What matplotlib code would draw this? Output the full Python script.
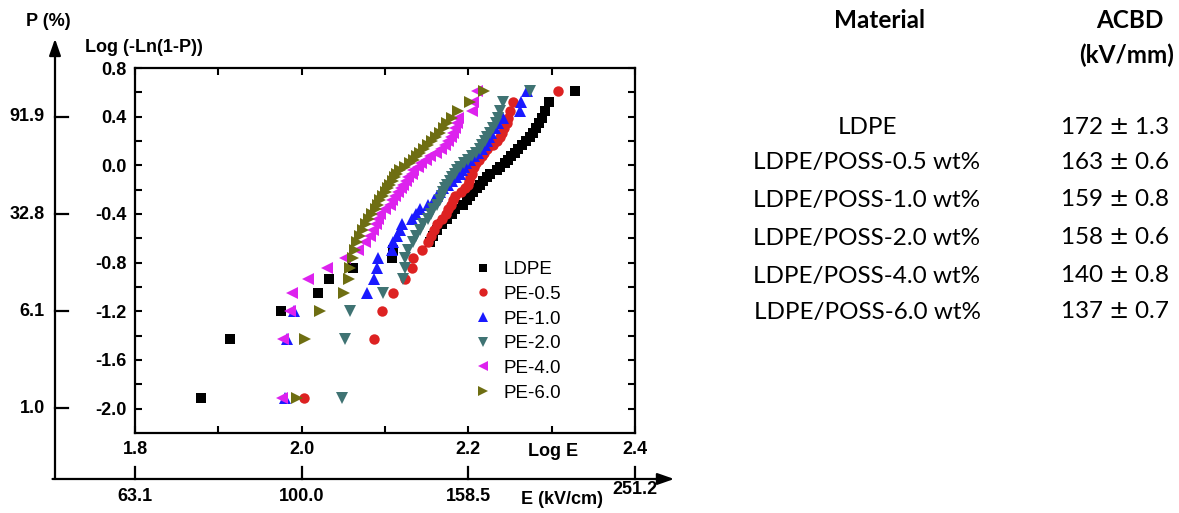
import matplotlib
matplotlib.use("Agg")
import matplotlib.pyplot as plt
import numpy as np

# Weibull plot data: common probability levels, Log(-Ln(1-P))
y_levels = [-1.911, -1.429, -1.201, -1.050, -0.935, -0.842, -0.763, -0.695, -0.634, -0.579,
            -0.529, -0.483, -0.439, -0.399, -0.360, -0.323, -0.288, -0.255, -0.222, -0.190,
            -0.159, -0.129, -0.099, -0.070, -0.041, -0.012, 0.017, 0.046, 0.075, 0.104,
            0.134, 0.165, 0.197, 0.230, 0.265, 0.303, 0.344, 0.391, 0.447, 0.520, 0.61]

# Log E for each sample (sorted)
ldpe = [1.879, 1.914, 1.975, 2.020, 2.033, 2.062, 2.108, 2.110, 2.154, 2.158,
        2.162, 2.168, 2.174, 2.180, 2.184, 2.194, 2.198, 2.202, 2.206, 2.210,
        2.214, 2.218, 2.222, 2.226, 2.234, 2.238, 2.244, 2.248, 2.251, 2.256,
        2.260, 2.264, 2.269, 2.274, 2.278, 2.281, 2.285, 2.288, 2.292, 2.297, 2.328]
pe05 = [2.003, 2.087, 2.096, 2.110, 2.124, 2.132, 2.133, 2.144, 2.152, 2.155,
        2.159, 2.162, 2.168, 2.173, 2.176, 2.179, 2.182, 2.184, 2.191, 2.196,
        2.200, 2.201, 2.202, 2.204, 2.204, 2.207, 2.209, 2.213, 2.216, 2.219,
        2.222, 2.230, 2.234, 2.238, 2.240, 2.243, 2.246, 2.248, 2.250, 2.254, 2.308]
pe10 = [1.980, 1.982, 1.991, 2.078, 2.087, 2.090, 2.092, 2.108, 2.110, 2.114,
        2.118, 2.120, 2.132, 2.137, 2.142, 2.152, 2.159, 2.162, 2.166, 2.170,
        2.176, 2.180, 2.185, 2.190, 2.192, 2.195, 2.197, 2.202, 2.207, 2.212,
        2.216, 2.220, 2.222, 2.225, 2.227, 2.232, 2.235, 2.242, 2.262, 2.263, 2.270]
pe20 = [2.048, 2.052, 2.058, 2.098, 2.122, 2.124, 2.124, 2.128, 2.133, 2.137,
        2.142, 2.146, 2.152, 2.155, 2.158, 2.162, 2.166, 2.168, 2.170, 2.172,
        2.174, 2.178, 2.180, 2.184, 2.186, 2.190, 2.195, 2.200, 2.204, 2.209,
        2.214, 2.216, 2.220, 2.222, 2.226, 2.230, 2.233, 2.236, 2.238, 2.242, 2.274]
pe40 = [1.976, 1.978, 1.986, 1.988, 2.008, 2.030, 2.052, 2.068, 2.076, 2.082,
        2.086, 2.089, 2.092, 2.094, 2.100, 2.106, 2.108, 2.112, 2.116, 2.119,
        2.122, 2.125, 2.128, 2.132, 2.134, 2.139, 2.143, 2.149, 2.154, 2.161,
        2.167, 2.172, 2.176, 2.179, 2.182, 2.184, 2.186, 2.188, 2.204, 2.206, 2.210]
pe60 = [1.994, 2.004, 2.022, 2.051, 2.057, 2.058, 2.061, 2.064, 2.066, 2.070,
        2.074, 2.077, 2.081, 2.084, 2.089, 2.092, 2.094, 2.098, 2.101, 2.104,
        2.106, 2.110, 2.112, 2.114, 2.118, 2.124, 2.130, 2.135, 2.138, 2.142,
        2.147, 2.152, 2.156, 2.161, 2.166, 2.171, 2.174, 2.180, 2.188, 2.202, 2.219]

labels = ["LDPE", "PE-0.5", "PE-1.0", "PE-2.0", "PE-4.0", "PE-6.0"]

# outer axes ticks
p_ticks = [91.9, 32.8, 6.1, 1.0]
e_ticks = [63.1, 100.0, 158.5, 251.2]

# table on the right
materials = ["LDPE", "LDPE/POSS-0.5 wt%", "LDPE/POSS-1.0 wt%", "LDPE/POSS-2.0 wt%",
             "LDPE/POSS-4.0 wt%", "LDPE/POSS-6.0 wt%"]
acbd = [172, 163, 159, 158, 140, 137]
acbd_err = [1.3, 0.6, 0.8, 0.6, 0.8, 0.7]

fig = plt.figure(figsize=(11.79, 5.13), dpi=100)
ax = fig.add_axes([135 / 1179, 80 / 513, 500 / 1179, 365 / 513])

series = [ldpe, pe05, pe10, pe20, pe40, pe60]
markers = ["s", "o", "^", "v", "<", ">"]
colors = ["#000000", "#dd2222", "#1a1aff", "#3f7373", "#dd22ee", "#6e6e12"]
sizes = [7, 7.5, 8.5, 8.5, 8.5, 8.5]
for xs, m, c, s, lab in zip(series, markers, colors, sizes, labels):
    ax.plot(xs, y_levels, linestyle="none", marker=m, color=c, markersize=s,
            markeredgewidth=0, label=lab, clip_on=False)

lf = "Liberation Sans"
fs = 13

ax.set_xlim(1.8, 2.4)
ax.set_ylim(-2.2, 0.8)
ax.set_xticks([1.8, 1.9, 2.0, 2.1, 2.2, 2.3, 2.4])
ax.set_xticklabels(["1.8", "", "2.0", "", "2.2", "", "2.4"])
ax.set_yticks(np.arange(-2.0, 0.81, 0.2))
ax.set_yticklabels(["-2.0", "", "-1.6", "", "-1.2", "", "-0.8", "", "-0.4", "", "0.0", "", "0.4", "", "0.8"])
ax.tick_params(direction="in", length=5, width=1.5, top=True, right=True,
               labelsize=fs, pad=6)
for lbl in ax.get_xticklabels() + ax.get_yticklabels():
    lbl.set_fontweight("bold")
    lbl.set_fontfamily(lf)
for sp in ax.spines.values():
    sp.set_linewidth(1.6)

leg = ax.legend(loc="lower left", bbox_to_anchor=(0.64, 0.04), frameon=False,
                prop={"family": lf, "size": 13.5}, handletextpad=0.5,
                labelspacing=0.4, markerscale=0.8, handlelength=1.2)

# outer axes (P % and E kV/cm)
x0 = 1.704
y0 = -2.578
ax.annotate("", xy=(x0, 1.04), xytext=(x0, y0), xycoords="data",
            arrowprops=dict(arrowstyle="-|>,head_length=1.0,head_width=0.35", color="black", lw=1.6,
                            shrinkA=0, shrinkB=0), annotation_clip=False)
ax.annotate("", xy=(2.447, y0), xytext=(1.701, y0), xycoords="data",
            arrowprops=dict(arrowstyle="-|>,head_length=1.0,head_width=0.35", color="black", lw=1.6,
                            shrinkA=0, shrinkB=0), annotation_clip=False)
for p in p_ticks:
    yv = np.log10(-np.log(1 - p / 100))
    ax.plot([x0, x0 + 0.015], [yv, yv], color="black", lw=1.6, clip_on=False)
    ax.text(x0 - 0.012, yv, "%.1f" % p, ha="right", va="center", fontsize=fs,
            fontweight="bold", family=lf)
for e in e_ticks:
    xv = np.log10(e)
    ax.plot([xv, xv], [y0, y0 + 0.1], color="black", lw=1.6, clip_on=False)
    ax.text(xv, y0 - 0.07 + (0.05 if e == 251.2 else 0), "%.1f" % e, ha="center", va="top",
            fontsize=fs, fontweight="bold", family=lf)

ax.text(1.696, 1.18, "P (%)", ha="center", va="center", fontsize=fs, fontweight="bold",
        family=lf)
ax.text(1.74, 0.965, "Log (-Ln(1-P))", ha="left", va="center", fontsize=fs, fontweight="bold",
        family=lf)
ax.text(2.302, -2.356, "Log E", ha="center", va="center", fontsize=fs, fontweight="bold",
        family=lf)
ax.text(2.312, -2.75, "E (kV/cm)", ha="center", va="center", fontsize=fs, fontweight="bold",
        family=lf)

# right-hand table
tf = "Lato"
tfs = 17.5
fig.text(880 / 1179, 1 - 20 / 513, "Material", ha="center", va="center", fontsize=tfs,
         fontweight="bold", family=tf)
fig.text(1130 / 1179, 1 - 20 / 513, "ACBD", ha="center", va="center", fontsize=tfs,
         fontweight="bold", family=tf)
fig.text(1127 / 1179, 1 - 55 / 513, "(kV/mm)", ha="center", va="center", fontsize=tfs,
         fontweight="bold", family=tf)
row_y = [128, 163, 200, 238, 276, 312]
for name, v, err, ry in zip(materials, acbd, acbd_err, row_y):
    fig.text(867 / 1179, 1 - ry / 513, name, ha="center", va="center", fontsize=tfs, family=tf)
    fig.text(1115 / 1179, 1 - ry / 513, "%d $\\pm$ %.1f" % (v, err), ha="center", va="center",
             fontsize=tfs, family=tf)

fig.savefig("out.png", dpi=100)
